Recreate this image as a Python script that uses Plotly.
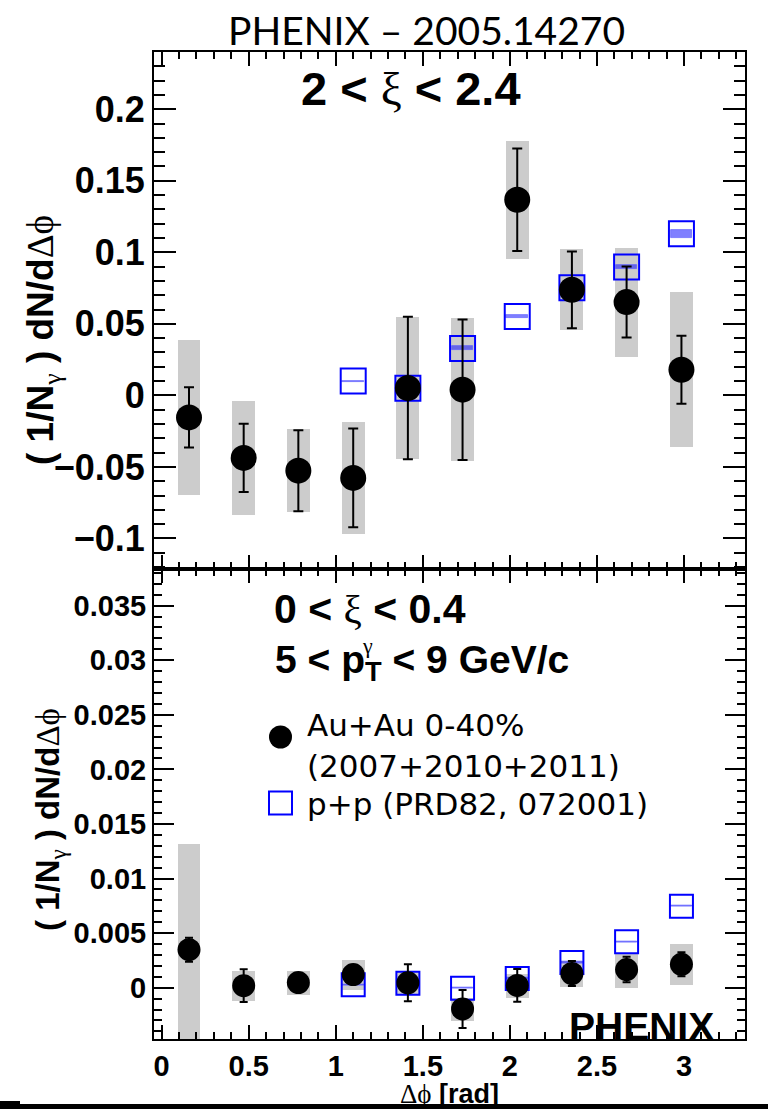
import plotly.graph_objects as go

# ---------------- data ----------------
dphi = [0.157, 0.471, 0.785, 1.100, 1.414, 1.728, 2.042, 2.356, 2.670, 2.985]
dphi_pp = [1.100, 1.414, 1.728, 2.042, 2.356, 2.670, 2.985]

# 2 < xi < 2.4
auau_top = [-0.0154, -0.0437, -0.0526, -0.0577, 0.0052, 0.0040, 0.1367, 0.0738, 0.0652, 0.0179]
auau_top_stat = [0.0211, 0.0239, 0.0283, 0.0345, 0.0498, 0.0491, 0.0358, 0.0268, 0.0248, 0.0238]
auau_top_sys = [0.0543, 0.0396, 0.0290, 0.0392, 0.0496, 0.0498, 0.0411, 0.0282, 0.0381, 0.0542]
pp_top = [0.0100, 0.0049, 0.0328, 0.0552, 0.0752, 0.0898, 0.1129]
pp_top_sys = [0.0004, 0.0008, 0.0014, 0.0012, 0.0010, 0.0012, 0.0027]

# 0 < xi < 0.4
auau_bot = [0.00348, 0.00018, 0.00047, 0.00120, 0.00045, -0.00195, 0.00021, 0.00130, 0.00166, 0.00214]
auau_bot_stat = [0.00110, 0.00150, 0.00070, 0.00080, 0.00170, 0.00175, 0.00150, 0.00114, 0.00117, 0.00110]
auau_bot_sys = [0.00970, 0.00135, 0.00110, 0.00137, 0.00110, 0.00103, 0.00110, 0.00120, 0.00160, 0.00187]
pp_bot = [0.00027, 0.00041, -0.00004, 0.00084, 0.00231, 0.00422, 0.00746]
pp_bot_sys = [0.00005, 0.00005, 0.00005, 0.00005, 0.00005, 0.00005, 0.00005]

box_halfwidth = 0.066

# ---------------- layout helpers ----------------
W_PX, H_PX = 768, 1109
ML, MR, MT, MB = 154, 23, 52, 70
PW = W_PX - ML - MR
PH = H_PX - MT - MB


def px(x):
    return (x - ML) / PW


def py(y):
    return (H_PX - MB - y) / PH


split = py(568.5)

SANS = "Liberation Sans"
GREEK = "<span style=\"font-family:'Liberation Serif';font-weight:normal\">%s</span>"
DPHI = GREEK % "\u0394\u03d5"

fig = go.Figure()


def add_panel(xa, ya, y, stat, sys, ppy, ppsys, msize, ssize, capw):
    # systematic boxes (grey)
    fig.add_trace(go.Bar(
        x=dphi, y=[2 * s for s in sys], base=[v - s for v, s in zip(y, sys)],
        width=2 * box_halfwidth, marker=dict(color="#cccccc", line=dict(width=0)),
        xaxis=xa, yaxis=ya, showlegend=False, hoverinfo="skip"))
    # p+p systematic bands
    fig.add_trace(go.Bar(
        x=dphi_pp, y=[2 * s for s in ppsys], base=[v - s for v, s in zip(ppy, ppsys)],
        width=0.125, marker=dict(color="rgba(0,0,255,0.5)",
                                 line=dict(width=0.8, color="rgba(90,90,255,0.8)")),
        xaxis=xa, yaxis=ya, showlegend=False, hoverinfo="skip"))
    # p+p points
    fig.add_trace(go.Scatter(
        x=dphi_pp, y=ppy, mode="markers",
        marker=dict(symbol="square-open", size=ssize, color="#0000ff", line=dict(width=2)),
        xaxis=xa, yaxis=ya, showlegend=False))
    # Au+Au points
    fig.add_trace(go.Scatter(
        x=dphi, y=y, mode="markers",
        marker=dict(symbol="circle", size=msize, color="black"),
        error_y=dict(type="data", array=stat, color="black", thickness=2, width=capw),
        xaxis=xa, yaxis=ya, showlegend=False))


add_panel("x", "y", auau_top, auau_top_stat, auau_top_sys, pp_top, pp_top_sys, 26, 25, 5)
add_panel("x2", "y2", auau_bot, auau_bot_stat, auau_bot_sys, pp_bot, pp_bot_sys, 23, 23, 4)

common_x = dict(range=[-0.044, 3.35], tick0=0, dtick=0.5, ticks="inside", ticklen=14,
                tickwidth=2, tickcolor="black", showline=True, linewidth=2, linecolor="black",
                mirror="allticks", showgrid=False, zeroline=False,
                minor=dict(dtick=0.1, ticks="inside", ticklen=7, tickwidth=1.5, tickcolor="black",
                           showgrid=False))

fig.update_layout(
    width=W_PX, height=H_PX,
    margin=dict(l=ML, r=MR, t=MT, b=MB),
    paper_bgcolor="white", plot_bgcolor="white",
    barmode="overlay", bargap=0,
    xaxis=dict(**common_x, anchor="y", showticklabels=False),
    xaxis2=dict(**common_x, anchor="y2", showticklabels=True,
                tickfont=dict(family=SANS, size=29, color="black", weight="bold")),
    yaxis=dict(domain=[split, 1], range=[-0.121, 0.24], tick0=0, dtick=0.05,
               ticks="inside", ticklen=22, tickwidth=2, tickcolor="black",
               showline=True, linewidth=2, linecolor="black", mirror="allticks",
               showgrid=False, zeroline=False,
               tickfont=dict(family=SANS, size=36, color="black", weight="bold"),
               minor=dict(dtick=0.01, ticks="inside", ticklen=11, tickwidth=1.5,
                          tickcolor="black", showgrid=False)),
    yaxis2=dict(domain=[0, split], range=[-0.0047, 0.0384], tick0=0, dtick=0.005,
                ticks="inside", ticklen=20, tickwidth=2, tickcolor="black",
                showline=True, linewidth=2, linecolor="black", mirror="allticks",
                showgrid=False, zeroline=False,
                tickfont=dict(family=SANS, size=29, color="black", weight="bold"),
                minor=dict(dtick=0.001, ticks="inside", ticklen=8, tickwidth=1.5,
                           tickcolor="black", showgrid=False)),
)

ann = []


def text(x, y, s, size, family=SANS, weight="bold", xanchor="center", yanchor="middle", angle=0):
    ann.append(dict(x=px(x), y=py(y), xref="paper", yref="paper", text=s, showarrow=False,
                    xanchor=xanchor, yanchor=yanchor, textangle=angle,
                    font=dict(family=family, size=size, color="black", weight=weight)))


# title
text(426, 30, "PHENIX \u2013 2005.14270", 39, family="Lato", weight="normal")
# panel labels
text(411, 89, "2 &lt; " + GREEK % "\u03be" + " &lt; 2.4", 47)
text(370, 609, "0 &lt; " + GREEK % "\u03be" + " &lt; 0.4", 41)
text(273, 662, "5 &lt; p<sub>T</sub> &lt; 9 GeV/c", 39, xanchor="left")
text(367, 646, GREEK % "\u03b3", 22)
# legend text
text(305, 725, "Au+Au 0-40%", 31, family="DejaVu Sans", weight="normal", xanchor="left")
text(305, 766, "(2007+2010+2011)", 31, family="DejaVu Sans", weight="normal", xanchor="left")
text(305, 804, "p+p (PRD82, 072001)", 31, family="DejaVu Sans", weight="normal", xanchor="left")
# PHENIX label
text(641, 1026, "PHENIX", 39)
# axis titles
ytitle = "( 1/N<sub>" + GREEK % "\u03b3" + "</sub> ) dN/d" + DPHI
text(43, 340, ytitle, 37, angle=-90)
text(50, 820, ytitle, 33, angle=-90)
text(449, 1094, DPHI + " [rad]", 27)

fig.update_layout(annotations=ann)

# legend keys and decorations
shapes = [
    dict(type="circle", xref="paper", yref="paper", xsizemode="pixel", ysizemode="pixel",
         xanchor=px(280.5), yanchor=py(737), x0=-11.5, x1=11.5, y0=-11.5, y1=11.5,
         fillcolor="black", line=dict(width=0)),
    dict(type="rect", xref="paper", yref="paper", xsizemode="pixel", ysizemode="pixel",
         xanchor=px(280.5), yanchor=py(803), x0=-11.5, x1=11.5, y0=-11.5, y1=11.5,
         fillcolor="rgba(0,0,0,0)", line=dict(width=2, color="#0000ff")),
    dict(type="rect", xref="paper", yref="paper", x0=px(0), x1=px(768), y0=py(1109), y1=py(1104),
         fillcolor="black", line=dict(width=0)),
    dict(type="rect", xref="paper", yref="paper", x0=px(0), x1=px(20), y0=py(1104), y1=py(1101),
         fillcolor="black", line=dict(width=0)),
]
fig.update_layout(shapes=shapes)

fig.write_html("out.html")
